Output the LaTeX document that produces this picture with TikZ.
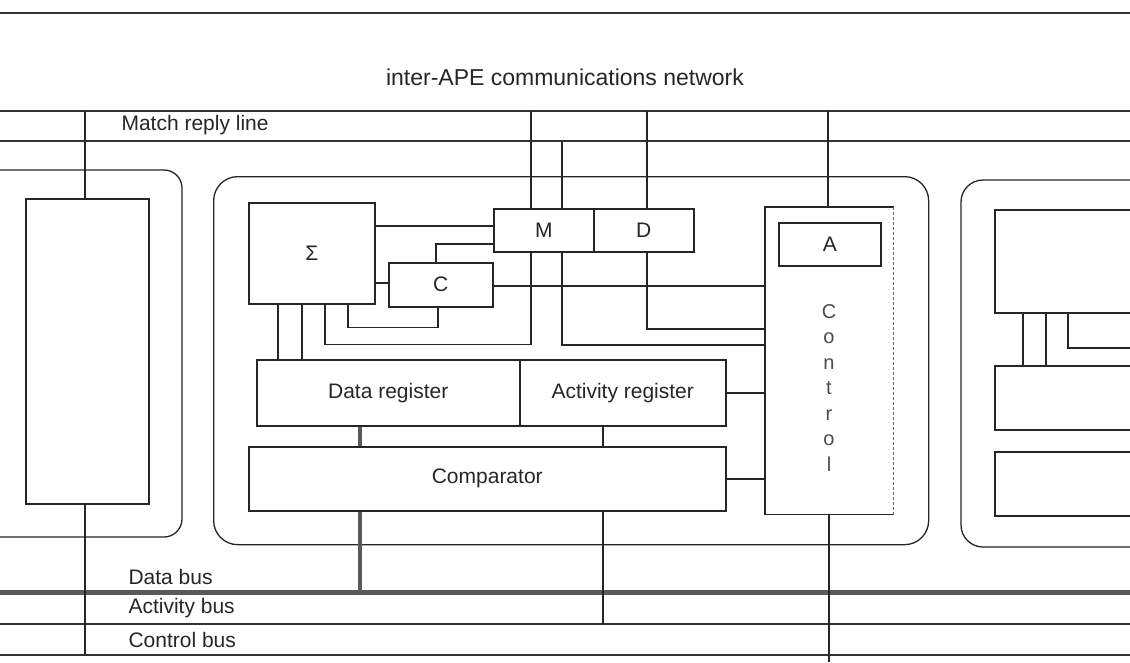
\documentclass[tikz,border=0pt]{standalone}
\usepackage{fontspec}
\setmainfont{Liberation Sans}
\usetikzlibrary{positioning, calc}

\begin{document}
\begin{tikzpicture}[
    x=1pt, y=-1pt,
    unit/.style = {draw=black!85, line width=1.5pt, inner sep=0pt, anchor=north west, font=\fontsize{21}{25}\selectfont, text=black!85},
    apebox/.style = {draw=black!85, line width=1.3pt},
    wire/.style = {draw=black!85, line width=1.5pt},
    thinwire/.style = {draw=black!85, line width=1.1pt},
    busline/.style = {draw=black!80, line width=2pt},
    fatbus/.style = {draw=black!65, line width=5pt},
    lbl/.style = {anchor=west, font=\fontsize{21}{25}\selectfont, text=black!85}
]
    \useasboundingbox (0,0) rectangle (1130,662);

    \coordinate (netT) at (0,13);     \coordinate (netTR) at (1130,13);
    \coordinate (netL) at (0,111);    \coordinate (netR) at (1130,111);
    \coordinate (mrL) at (0,141);     \coordinate (mrR) at (1130,141);
    \coordinate (dbL) at (0,592);     \coordinate (dbR) at (1130,592);
    \coordinate (abL) at (0,624);     \coordinate (abR) at (1130,624);
    \coordinate (cbL) at (0,655);     \coordinate (cbR) at (1130,655);
    \coordinate (rout) at (1130,348);
    \coordinate (ctlend) at (829,662);

    \draw [busline] (netT) -- (netTR);
    \draw [busline] (netL) -- (netR);
    \draw [busline] (mrL) -- (mrR);
    \draw [fatbus] (dbL) -- (dbR);
    \draw [busline] (abL) -- (abR);
    \draw [busline] (cbL) -- (cbR);

    \node [font=\fontsize{23}{27}\selectfont, text=black!85] (nettitle) at (565,77) {inter-APE communications network};
    \node [lbl] (mrlabel) at (118,125) {Match reply line};
    \node [lbl] (dblabel) at (125,577) {Data bus};
    \node [lbl] (ablabel) at (125,608) {Activity bus};
    \node [lbl] (cblabel) at (125,640) {Control bus};

    % neighbouring APEs
    \draw [apebox, rounded corners=18pt] (0,170) -- (182,170) -- (182,537) -- (0,537);
    \node [unit, minimum width=123pt, minimum height=305pt] (leftpe) at (25,198) {};
    \draw [thinwire] (85,0 |- netL) -- (leftpe.north -| 85,0);
    \draw [thinwire] (leftpe.south -| 85,0) -- (85,0 |- cbL);

    \draw [apebox, rounded corners=22pt] (1130,180) -- (961,180) -- (961,547) -- (1130,547);
    \node [unit, minimum width=160pt, minimum height=103pt] (rtop) at (994,209) {};
    \node [unit, minimum width=160pt, minimum height=64pt] (rmid) at (994,365) {};
    \node [unit, minimum width=160pt, minimum height=64pt] (rbot) at (994,451) {};
    \draw [thinwire] (rtop.south -| 1023,0) -- (rmid.north -| 1023,0);
    \draw [thinwire] (rtop.south -| 1046,0) -- (rmid.north -| 1046,0);
    \draw [thinwire] (rtop.south -| 1068,0) |- (rout);

    % the APE
    \node [apebox, rounded corners=24pt, minimum width=715pt, minimum height=368pt, anchor=north west, inner sep=0pt] (ape) at (213,176) {};
    \node [unit, minimum width=126pt, minimum height=101pt] (sigma) at (248,202) {Σ};
    \node [unit, minimum width=100pt, minimum height=43pt] (mdM) at (493,208) {M};
    \node [unit, minimum width=100pt, minimum height=43pt] (mdD) at (593,208) {D};
    \node [unit, minimum width=104pt, minimum height=44pt] (cbox) at (388,262) {C};
    \node [unit, draw=none, minimum width=127pt, minimum height=306pt] (ctrl) at (765,207) {};
    \node [unit, minimum width=102pt, minimum height=43pt] (abox) at (778,222) {A};
    \node [font=\fontsize{20}{25.5}\selectfont, align=center, text=black!70] (ctrltext) at (829,388) {C\\o\\n\\t\\r\\o\\l};
    \node [unit, minimum width=263pt, minimum height=66pt] (datareg) at (256,359) {Data register};
    \node [unit, minimum width=206pt, minimum height=66pt] (actreg) at (519,359) {Activity register};
    \node [unit, minimum width=477pt, minimum height=64pt] (comp) at (248,446) {Comparator};

    \draw [wire] (ctrl.north east) -- (ctrl.north west) -- (ctrl.south west) -- (ctrl.south east);
    \draw [thinwire, draw=black!60, densely dashed] (ctrl.north east) -- (ctrl.south east);

    \draw [thinwire] (mdM.north -| 531,0) -- (531,0 |- netL);
    \draw [thinwire] (mdM.north -| 562,0) -- (562,0 |- mrL);
    \draw [thinwire] (mdD.north -| 647,0) -- (647,0 |- netL);
    \draw [thinwire] (ctrl.north -| 828,0) -- (828,0 |- netL);

    \draw [wire] (sigma.east |- 0,226) -- (mdM.west |- 0,226);
    \draw [wire] (cbox.north -| 436,0) |- (mdM.west |- 0,244);
    \draw [wire] (sigma.east |- 0,283) -- (cbox.west |- 0,283);
    \draw [wire] (cbox.east |- 0,286) -- (ctrl.west |- 0,286);
    \draw [wire] (mdD.south -| 647,0) |- (ctrl.west |- 0,329);
    \draw [wire] (mdM.south -| 562,0) |- (ctrl.west |- 0,345);
    \draw [wire] (mdM.south -| 531,0) -- ++(0,92) -| (sigma.south -| 325,0);
    \draw [wire] (cbox.south -| 438,0) -- ++(0,20) -| (sigma.south -| 348,0);
    \draw [wire] (sigma.south -| 278,0) -- (datareg.north -| 278,0);
    \draw [wire] (sigma.south -| 302,0) -- (datareg.north -| 302,0);
    \draw [wire] (actreg.east) -- (ctrl.west |- actreg.east);
    \draw [wire] (comp.east) -- (ctrl.west |- comp.east);

    \draw [draw=black!65, line width=4pt] (datareg.south -| 360,0) -- (comp.north -| 360,0);
    \draw [draw=black!65, line width=4pt] (comp.south -| 360,0) -- (360,0 |- dbL);
    \draw [thinwire] (actreg.south -| 603,0) -- (comp.north -| 603,0);
    \draw [thinwire] (comp.south -| 603,0) -- (603,0 |- abL);
    \draw [thinwire] (ctrl.south -| 829,0) -- (ctlend);
\end{tikzpicture}
\end{document}
